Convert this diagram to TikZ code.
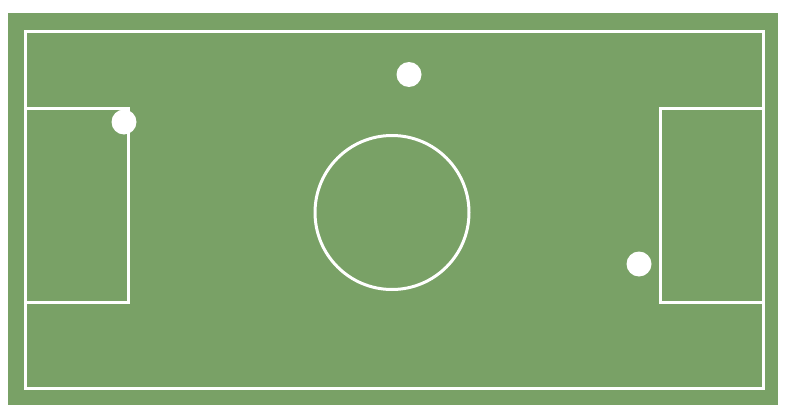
\documentclass[tikz,border=0pt]{standalone}
\definecolor{pitch}{RGB}{121,161,102}
\tikzset{
  pitchline/.style={draw=white, line width=3pt},
  ball/.style={fill=white}
}
\begin{document}
\begin{tikzpicture}[x=1pt,y=-1pt]
\useasboundingbox (0,0) rectangle (785,415);
\fill[white] (0,0) rectangle (785,415);
\fill[pitch] (8,13) rectangle (778,405);
% outer line
\draw[pitchline] (25,31) rectangle (763,388);
% penalty boxes
\draw[pitchline] (25,108.5) -- (128.5,108.5) -- (128.5,302) -- (25,302);
\draw[pitchline] (763,108.5) -- (660,108.5) -- (660,302) -- (763,302);
% centre circle
\draw[pitchline] (392,212.5) circle[radius=77];
% balls
\fill[ball] (409,74.5) circle[radius=12.5];
\fill[ball] (124,122) circle[radius=12.5];
\fill[ball] (639,264) circle[radius=12.5];
\end{tikzpicture}
\end{document}
